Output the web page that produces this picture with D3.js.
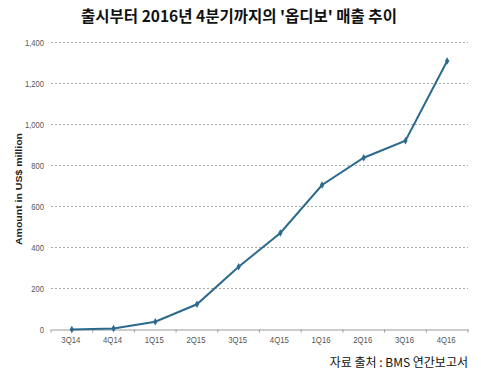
<!DOCTYPE html>
<html><head><meta charset="utf-8">
<script src="https://cdn.jsdelivr.net/npm/d3@7"></script>
<style>body{margin:0;background:#fff}</style>
</head><body><svg id="c" width="481" height="377"></svg>
<script>
const categories = ["3Q14","4Q14","1Q15","2Q15","3Q15","4Q15","1Q16","2Q16","3Q16","4Q16"];
const sales = [0, 5, 38, 123, 306, 471, 705, 838, 921, 1310];
const yTicks = [0,200,400,600,800,1000,1200,1400];
const title = "출시부터 2016년 4분기까지의 '옵디보' 매출 추이";
const yTitle = "Amount in US$ million";
const source = "자료 출처 : BMS 연간보고서";

const svg = d3.select("#c");
const L = 51, R = 468, T = 42.5, B = 329.5;
const x = d3.scaleBand().domain(categories).range([L, R]);
const y = d3.scaleLinear().domain([0, 1400]).range([B, T]);

svg.append("text").attr("x", 239).attr("y", 22).attr("text-anchor", "middle")
  .attr("font-family", "'Noto Sans CJK KR', sans-serif").attr("font-weight", "bold")
  .attr("font-size", 15.5).attr("fill", "#111").text(title);

// grid
svg.append("g").selectAll("line").data(yTicks.filter(d => d > 0)).join("line")
  .attr("x1", L).attr("x2", R).attr("y1", d => y(d)).attr("y2", d => y(d))
  .attr("stroke", "#aaa").attr("stroke-width", 1).attr("stroke-dasharray", "2,2");

// y labels (slightly condensed)
svg.append("g").selectAll("text").data(yTicks).join("text")
  .attr("transform", d => `translate(44,${y(d)}) scale(0.8,1)`)
  .attr("dy", "0.35em").attr("text-anchor", "end")
  .attr("font-family", "'Liberation Sans', Arial, sans-serif").attr("font-size", 9.5)
  .attr("fill", "#555").text(d3.format(","));

// x axis
const xa = d3.axisBottom(x).tickSize(0).tickPadding(7);
const gx = svg.append("g").attr("transform", `translate(0,${B})`).call(xa);
gx.select(".domain").attr("stroke", "#999");
gx.selectAll("text").attr("font-family", "'Liberation Sans', Arial, sans-serif")
  .attr("font-size", 9.5).attr("fill", "#555")
  .attr("transform", "translate(-1,0) scale(0.82,1)");
gx.selectAll(".sep").data(d3.range(categories.length + 1)).join("line")
  .attr("class", "sep")
  .attr("x1", i => L + i * x.step()).attr("x2", i => L + i * x.step())
  .attr("y1", 0).attr("y2", 3).attr("stroke", "#999");

// y title
svg.append("text").attr("transform", "translate(22,189) scale(0.8,1) rotate(-90)")
  .attr("text-anchor", "middle").attr("font-family", "'Liberation Sans', Arial, sans-serif")
  .attr("font-weight", "bold").attr("font-size", 10.5).attr("fill", "#222").text(yTitle);

// line
const cx = d => x(d) + x.bandwidth() / 2;
svg.append("path").datum(sales)
  .attr("d", d3.line().x((d, i) => cx(categories[i])).y(d => y(d)))
  .attr("fill", "none").attr("stroke", "#2b6a8d").attr("stroke-width", 2);
svg.append("g").selectAll("path").data(sales).join("path")
  .attr("d", d3.symbol().type(d3.symbolDiamond).size(16))
  .attr("transform", (d, i) => `translate(${cx(categories[i])},${y(d)})`)
  .attr("fill", "#2b6a8d");

svg.append("text").attr("x", 468).attr("y", 367).attr("text-anchor", "end")
  .attr("font-family", "'Noto Sans CJK KR', sans-serif").attr("font-size", 12)
  .attr("fill", "#111").text(source);
</script></body></html>
